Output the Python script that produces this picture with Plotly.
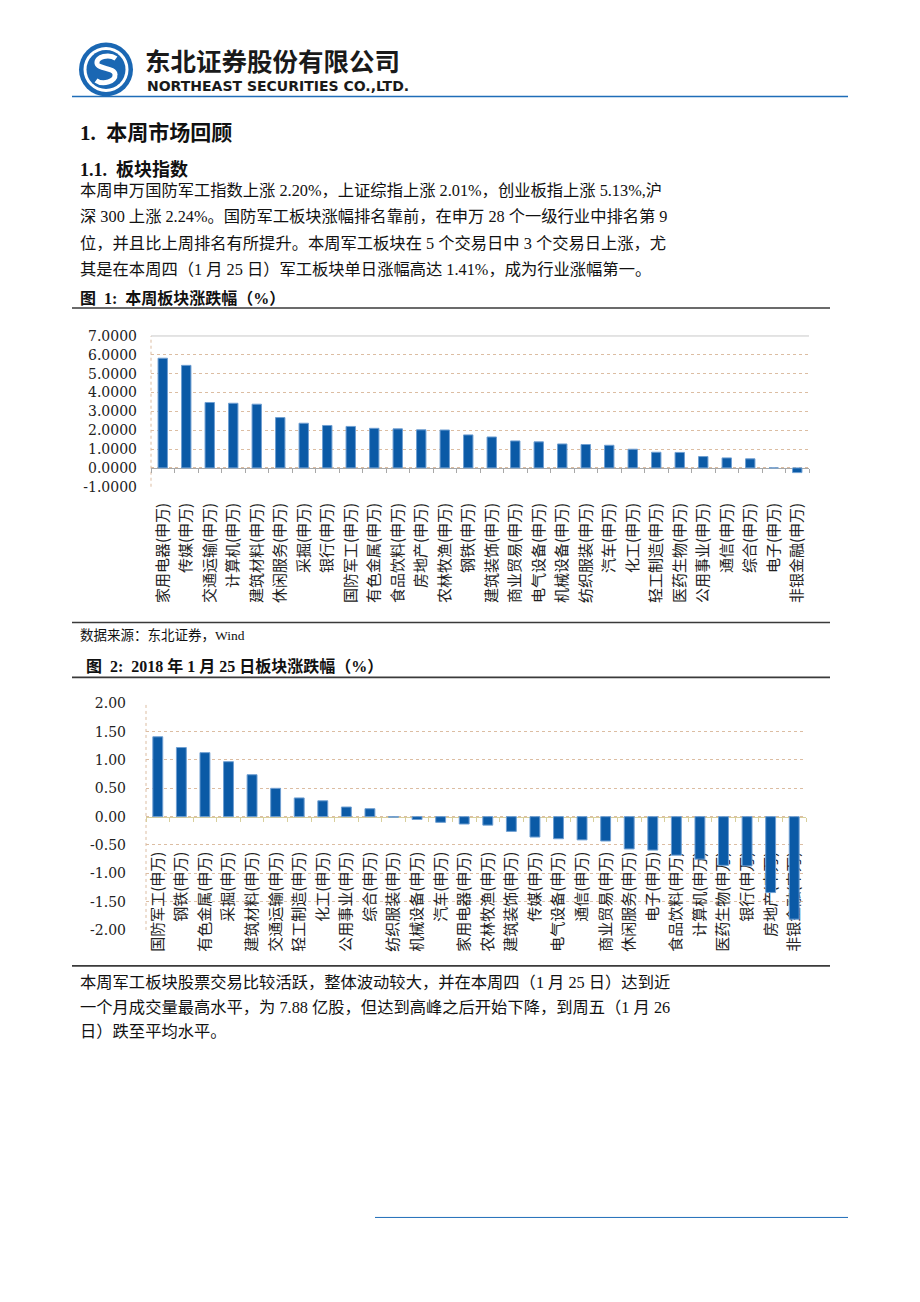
import plotly.graph_objects as go

W, H = 920, 1302


def fx(x):
    return x / W


def fy(y):
    # small vertical calibration so rendered positions land on the reference page
    y = y - 5.5 + 12.0 * (y - 95) / 1123
    return 1 - y / H


# ---------------- data ----------------
weekly_labels = ["家用电器(申万)", "传媒(申万)", "交通运输(申万)", "计算机(申万)", "建筑材料(申万)",
                 "休闲服务(申万)", "采掘(申万)", "银行(申万)", "国防军工(申万)", "有色金属(申万)",
                 "食品饮料(申万)", "房地产(申万)", "农林牧渔(申万)", "钢铁(申万)", "建筑装饰(申万)",
                 "商业贸易(申万)", "电气设备(申万)", "机械设备(申万)", "纺织服装(申万)", "汽车(申万)",
                 "化工(申万)", "轻工制造(申万)", "医药生物(申万)", "公用事业(申万)", "通信(申万)",
                 "综合(申万)", "电子(申万)", "非银金融(申万)"]
weekly_values = [5.82, 5.44, 3.47, 3.43, 3.38, 2.67, 2.37, 2.25, 2.20, 2.10,
                 2.07, 2.02, 2.01, 1.75, 1.64, 1.43, 1.38, 1.27, 1.24, 1.20,
                 0.99, 0.83, 0.82, 0.60, 0.53, 0.48, 0.00, -0.25]

jan25_labels = ["国防军工(申万)", "钢铁(申万)", "有色金属(申万)", "采掘(申万)", "建筑材料(申万)",
                "交通运输(申万)", "轻工制造(申万)", "化工(申万)", "公用事业(申万)", "综合(申万)",
                "纺织服装(申万)", "机械设备(申万)", "汽车(申万)", "家用电器(申万)", "农林牧渔(申万)",
                "建筑装饰(申万)", "传媒(申万)", "电气设备(申万)", "通信(申万)", "商业贸易(申万)",
                "休闲服务(申万)", "电子(申万)", "食品饮料(申万)", "计算机(申万)", "医药生物(申万)",
                "银行(申万)", "房地产(申万)", "非银金融(申万)"]
jan25_values = [1.41, 1.22, 1.13, 0.97, 0.74, 0.50, 0.33, 0.28, 0.17, 0.14,
                -0.01, -0.05, -0.10, -0.13, -0.15, -0.26, -0.36, -0.39, -0.41, -0.43,
                -0.57, -0.59, -0.68, -0.75, -0.86, -0.87, -1.34, -1.81]

weekly_tickvals = [-1, 0, 1, 2, 3, 4, 5, 6, 7]
weekly_ticktext = ["-1.0000", "0.0000", "1.0000", "2.0000", "3.0000",
                   "4.0000", "5.0000", "6.0000", "7.0000"]
jan25_tickvals = [-2, -1.5, -1, -0.5, 0, 0.5, 1, 1.5, 2]
jan25_ticktext = ["-2.00", "-1.50", "-1.00", "-0.50", "0.00",
                  "0.50", "1.00", "1.50", "2.00"]

# ---------------- styles ----------------
BAR = "#0b5aa6"
BAR_EDGE = "#6f9fd2"
GRID = "#dcbda2"
AXIS = "#a8a8a8"
SERIF = "Liberation Serif, Noto Sans CJK SC"
CJK = "Noto Sans CJK SC"
NUM = "DejaVu Serif"
HEAD_BLUE = "#1f6db8"

fig = go.Figure()
fig.add_trace(go.Bar(x=weekly_labels, y=weekly_values, xaxis="x", yaxis="y", width=0.4,
                     marker=dict(color=BAR, line=dict(color=BAR_EDGE, width=1))))
fig.add_trace(go.Bar(x=jan25_labels, y=jan25_values, xaxis="x2", yaxis="y2", width=0.42,
                     marker=dict(color=BAR, line=dict(color=BAR_EDGE, width=1))))

y1_range = [-1, 7]
y1_dom = [fy(486), fy(335)]
zero1 = y1_dom[0] + (0 - y1_range[0]) / (y1_range[1] - y1_range[0]) * (y1_dom[1] - y1_dom[0])
y2_range = [-2, 2]
y2_dom = [fy(930), fy(703)]
zero2 = y2_dom[0] + (0 - y2_range[0]) / (y2_range[1] - y2_range[0]) * (y2_dom[1] - y2_dom[0])

xcommon = dict(type="category", showgrid=False, zeroline=False, showline=True, linewidth=1,
               ticks="outside", tickson="boundaries", ticklen=4, tickangle=-90,
               tickfont=dict(family=CJK, size=15, color="#222"), anchor="free",
               layer="below traces")

fig.update_layout(
    width=W, height=H, autosize=False,
    margin=dict(l=0, r=0, t=0, b=0),
    paper_bgcolor="white", plot_bgcolor="white",
    showlegend=False,
    xaxis=dict(**xcommon, domain=[fx(151), fx(809)], range=[-0.5, 27.5], position=zero1,
               linecolor=AXIS, tickcolor=AXIS, ticklabelstandoff=28),
    yaxis=dict(domain=y1_dom, range=y1_range, anchor="x", tickvals=weekly_tickvals,
               ticktext=weekly_ticktext, showgrid=True, gridcolor=GRID, griddash="dot",
               gridwidth=1, zeroline=False, showline=False, ticks="",
               ticklabelstandoff=13, tickfont=dict(family=NUM, size=14, color="#222")),
    xaxis2=dict(**xcommon, domain=[fx(146), fx(806)], range=[-0.5, 27.5], position=zero2,
                linecolor="#d8cf9c", tickcolor="#d8cf9c", ticklabelstandoff=28),
    yaxis2=dict(domain=y2_dom, range=y2_range, anchor="x2", tickvals=jan25_tickvals,
                ticktext=jan25_ticktext, showgrid=True, gridcolor=GRID, griddash="dot",
                gridwidth=1, zeroline=False, showline=False, ticks="",
                ticklabelstandoff=19, tickfont=dict(family=NUM, size=14, color="#222")),
)

shapes = []


def hline(x0, x1, y, color, width, dash="solid"):
    shapes.append(dict(type="line", xref="paper", yref="paper", x0=fx(x0), x1=fx(x1),
                       y0=fy(y), y1=fy(y), line=dict(color=color, width=width, dash=dash)))


# header and page rules
hline(72, 848, 95, HEAD_BLUE, 1.5)
hline(72, 830, 307, "#3a3a3a", 1.6)
hline(72, 830, 622, "#3a3a3a", 1.6)
hline(72, 830, 677, "#3a3a3a", 1.6)
hline(72, 830, 966, "#3a3a3a", 1.6)
hline(375, 848, 1218, HEAD_BLUE, 1)

# chart frame decorations
for xa, ya in (("x", "y"), ("x2", "y2")):
    shapes.append(dict(type="line", xref=xa + " domain", yref=ya + " domain", x0=0, x1=0,
                       y0=0, y1=1, line=dict(color=GRID, width=1, dash="dot"), layer="below"))
shapes.append(dict(type="line", xref="x domain", yref="y domain", x0=0, x1=1, y0=1, y1=1,
                   line=dict(color="#c8c8c8", width=1), layer="below"))


# logo
def circle(cx, cy, r, color):
    shapes.append(dict(type="circle", xref="paper", yref="paper",
                       x0=fx(cx - r), x1=fx(cx + r), y0=fy(cy + r), y1=fy(cy - r),
                       fillcolor=color, line=dict(width=0)))


circle(106, 68, 27, "#1a67b3")
circle(106, 68, 22.5, "white")
circle(106, 68, 19.5, "#1a67b3")


def pathstr(segs):
    out = []
    for cmd, pts in segs:
        out.append(cmd + " " + " ".join(f"{fx(a):.5f},{fy(b):.5f}" for a, b in pts))
    return " ".join(out)


s_path = pathstr([
    ("M", [(116, 57)]),
    ("C", [(109, 52), (96, 55), (97, 62)]),
    ("C", [(98, 68), (115, 66), (115, 73)]),
    ("C", [(116, 80), (103, 84), (96, 79)]),
])
shapes.append(dict(type="path", xref="paper", yref="paper", path=s_path,
                   line=dict(color="white", width=5)))

fig.update_layout(shapes=shapes)

# ---------------- text ----------------
ann = []


def text(s, x, y, size, family=SERIF, bold=False, color="#111"):
    ann.append(dict(text=("<b>%s</b>" % s) if bold else s, x=fx(x), y=fy(y), xref="paper",
                    yref="paper", xanchor="left", yanchor="middle", showarrow=False,
                    font=dict(family=family, size=size, color=color)))


text("东北证券股份有限公司", 143, 58.5, 25.5, family=CJK, bold=True, color="#1a1a1a")
text("NORTHEAST SECURITIES CO.,LTD.", 145, 84.5, 14, family="DejaVu Sans", bold=True,
     color="#1a1a1a")

text("1.  本周市场回顾", 78, 132, 21, bold=True)
text("1.1.  板块指数", 78, 168, 18, bold=True)
para1 = [
    "本周申万国防军工指数上涨 2.20%，上证综指上涨 2.01%，创业板指上涨 5.13%,沪",
    "深 300 上涨 2.24%。国防军工板块涨幅排名靠前，在申万 28 个一级行业中排名第 9",
    "位，并且比上周排名有所提升。本周军工板块在 5 个交易日中 3 个交易日上涨，尤",
    "其是在本周四（1 月 25 日）军工板块单日涨幅高达 1.41%，成为行业涨幅第一。",
]
for i, line in enumerate(para1):
    text(line, 78, 189 + i * 26.5, 16.3)

text("图  1:  本周板块涨跌幅（%）", 78, 297, 16, bold=True)
text("数据来源：东北证券，Wind", 78, 635, 13.5)
text("图  2:  2018 年 1 月 25 日板块涨跌幅（%）", 84, 666, 16, bold=True)

para2 = [
    "本周军工板块股票交易比较活跃，整体波动较大，并在本周四（1 月 25 日）达到近",
    "一个月成交量最高水平，为 7.88 亿股，但达到高峰之后开始下降，到周五（1 月 26",
    "日）跌至平均水平。",
]
for i, line in enumerate(para2):
    text(line, 78, 983 + i * 24.5, 16.3)

fig.update_layout(annotations=ann)

fig.write_html("out.html", config={"displayModeBar": False},
               post_script="document.body.style.margin='0';document.body.style.padding='0';")
